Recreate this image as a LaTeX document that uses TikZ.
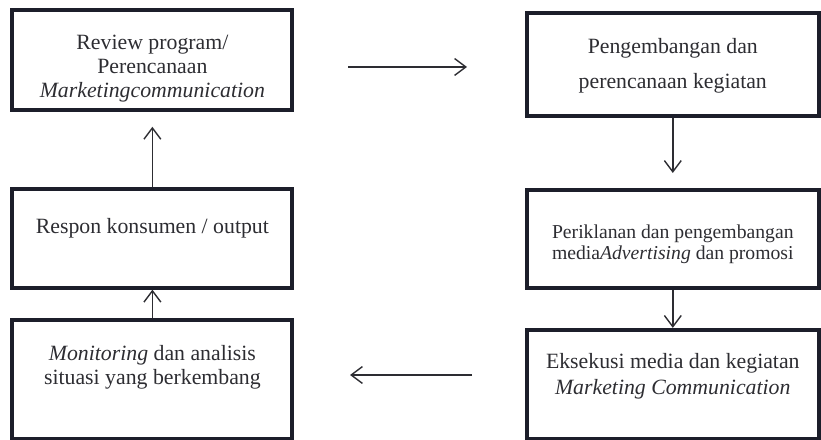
\documentclass[tikz,border=0pt]{standalone}
\usepackage{fontspec}
\setmainfont{Liberation Serif}
\usetikzlibrary{arrows.meta}

\definecolor{boxline}{RGB}{28,30,42}
\definecolor{inktext}{RGB}{45,45,50}

\tikzset{
    box/.style={draw=boxline, line width=0.1cm, minimum width=#1, inner sep=0pt},
    boxtext/.style={align=center, text=inktext, font=\fontsize{15.5}{17}\selectfont},
    flow/.style={draw=inktext, line width=0.035cm, -{Straight Barb[length=8pt,width=12pt]}}
}

\begin{document}
\begin{tikzpicture}
    \useasboundingbox (0,0) rectangle (20.525,11);

    % Left column
    \node[box=7cm, minimum height=2.52cm] (b1) at (3.81,9.5) {};
    \node[box=7cm, minimum height=2.465cm] (b2) at (3.81,5.04) {};
    \node[box=7cm, minimum height=2.975cm] (b3) at (3.81,1.51) {};

    % Right column
    \node[box=7.3cm, minimum height=2.56cm] (b4) at (16.82,9.39) {};
    \node[box=7.3cm, minimum height=2.45cm] (b5) at (16.82,5.025) {};
    \node[box=7.3cm, minimum height=2.725cm] (b6) at (16.82,1.39) {};

    % Texts
    \node[boxtext] (t1) at (3.81,9.29) {Review program/\\Perencanaan\\\textit{Marketingcommunication}};
    \node[boxtext] (t2) at (3.81,5.3) {Respon konsumen / output};
    \node[boxtext] (t3) at (3.81,1.81) {\textit{Monitoring} dan analisis\\[0.3pt]situasi yang berkembang};
    \node[boxtext] (t4) at (16.82,9.36) {Pengembangan dan\\[7.5pt]perencanaan kegiatan};
    \node[boxtext, font=\fontsize{14}{15}\selectfont] (t5) at (16.82,4.9) {Periklanan dan pengembangan\\media\textit{Advertising} dan promosi};
    \node[boxtext] (t6) at (16.82,1.59) {Eksekusi media dan kegiatan\\[2pt]\textit{Marketing Communication}};

    % Connectors
    \draw[flow, shorten >=0.36cm] (b2.north) -- (b1.south);
    \draw[flow] (b3.north) -- (b2.south);
    \draw[flow, shorten >=0.375cm] (b4.south) -- (b5.north);
    \draw[flow] (b5.south) -- (b6.north);
    \draw[flow, shorten <=1.34cm, shorten >=1.445cm] ([yshift=-0.175cm]b1.east) -- ([yshift=-0.175cm]b1.east -| b4.west);
    \draw[flow, shorten <=1.32cm, shorten >=1.39cm] ([yshift=0.235cm]b6.west) -- ([yshift=0.235cm]b6.west -| b3.east);
\end{tikzpicture}
\end{document}
